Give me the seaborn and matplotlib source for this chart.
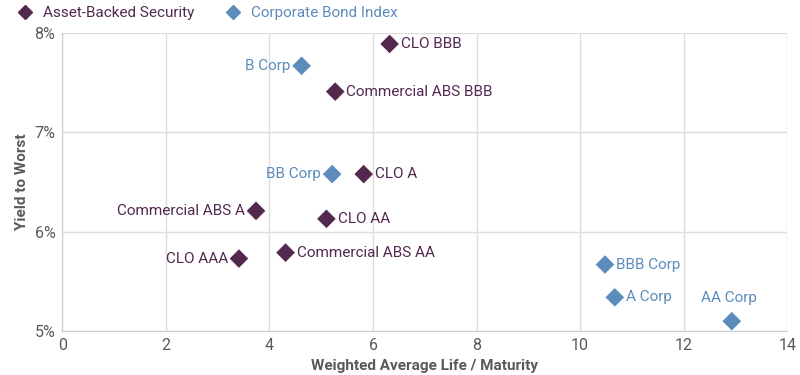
import numpy as np
import pandas as pd
import matplotlib
matplotlib.use("Agg")
import matplotlib.pyplot as plt
import seaborn as sns
from matplotlib.lines import Line2D

# data
names = ["CLO BBB", "B Corp", "Commercial ABS BBB", "BB Corp", "CLO A",
         "Commercial ABS A", "CLO AA", "Commercial ABS AA", "CLO AAA",
         "BBB Corp", "A Corp", "AA Corp"]
wal = [6.32, 4.62, 5.27, 5.21, 5.82, 3.74, 5.10, 4.31, 3.41, 10.48, 10.67, 12.93]
ytw = [7.89, 7.67, 7.41, 6.58, 6.58, 6.21, 6.13, 5.79, 5.73, 5.67, 5.34, 5.10]
group = ["Asset-Backed Security", "Corporate Bond Index", "Asset-Backed Security",
         "Corporate Bond Index", "Asset-Backed Security", "Asset-Backed Security",
         "Asset-Backed Security", "Asset-Backed Security", "Asset-Backed Security",
         "Corporate Bond Index", "Corporate Bond Index", "Corporate Bond Index"]
label_side = ["right", "left", "right", "left", "right", "left",
              "right", "right", "left", "right", "right", "above"]

df = pd.DataFrame({"name": names, "wal": wal, "ytw": ytw, "group": group, "side": label_side})

palette = {"Asset-Backed Security": "#52284f", "Corporate Bond Index": "#5b8cbb"}

sns.set_style("white")
plt.rcParams["font.family"] = ["Roboto", "DejaVu Sans"]

fig, ax = plt.subplots(figsize=(8, 3.75), dpi=100)
fig.subplots_adjust(left=0.078, right=0.984, top=0.912, bottom=0.117)

sns.scatterplot(data=df, x="wal", y="ytw", hue="group", palette=palette,
                marker="D", s=100, edgecolor="white", linewidth=0.5,
                ax=ax, legend=False, zorder=3)

for _, r in df.iterrows():
    c = palette[r["group"]]
    if r["side"] == "right":
        ax.annotate(r["name"], (r["wal"], r["ytw"]), xytext=(8, 0), textcoords="offset points",
                    ha="left", va="center", color=c, fontsize=11)
    elif r["side"] == "left":
        ax.annotate(r["name"], (r["wal"], r["ytw"]), xytext=(-8, 0), textcoords="offset points",
                    ha="right", va="center", color=c, fontsize=11)
    else:
        ax.annotate(r["name"], (r["wal"], r["ytw"]), xytext=(-2, 12), textcoords="offset points",
                    ha="center", va="bottom", color=c, fontsize=11)

ax.set_xlim(0, 14)
ax.set_ylim(5, 8)
ax.set_xticks(np.arange(0, 15, 2))
ax.set_yticks([5, 6, 7, 8])
ax.set_yticklabels(["5%", "6%", "7%", "8%"])
ax.grid(True, color="#dddddd", linewidth=1)
ax.set_axisbelow(True)
for s in ["top", "right"]:
    ax.spines[s].set_visible(False)
for s in ["left", "bottom"]:
    ax.spines[s].set_color("#cccccc")
ax.tick_params(axis="both", colors="#595959", labelsize=11.5, length=0, pad=5)
ax.set_xlabel("Weighted Average Life / Maturity", fontsize=11, fontweight="bold",
              color="#595959", labelpad=4)
ax.set_ylabel("Yield to Worst", fontsize=11, fontweight="bold", color="#595959")

# legend across the top
handles = [Line2D([], [], marker="D", linestyle="", color=palette[g], markersize=7) for g in palette]
leg = fig.legend(handles, list(palette.keys()), loc="upper left", bbox_to_anchor=(-0.005, 1.02),
                 ncol=2, frameon=False, fontsize=11, handletextpad=0.2, columnspacing=1.5)
for t, g in zip(leg.get_texts(), palette):
    t.set_color(palette[g])

fig.savefig("out.png", dpi=100)
